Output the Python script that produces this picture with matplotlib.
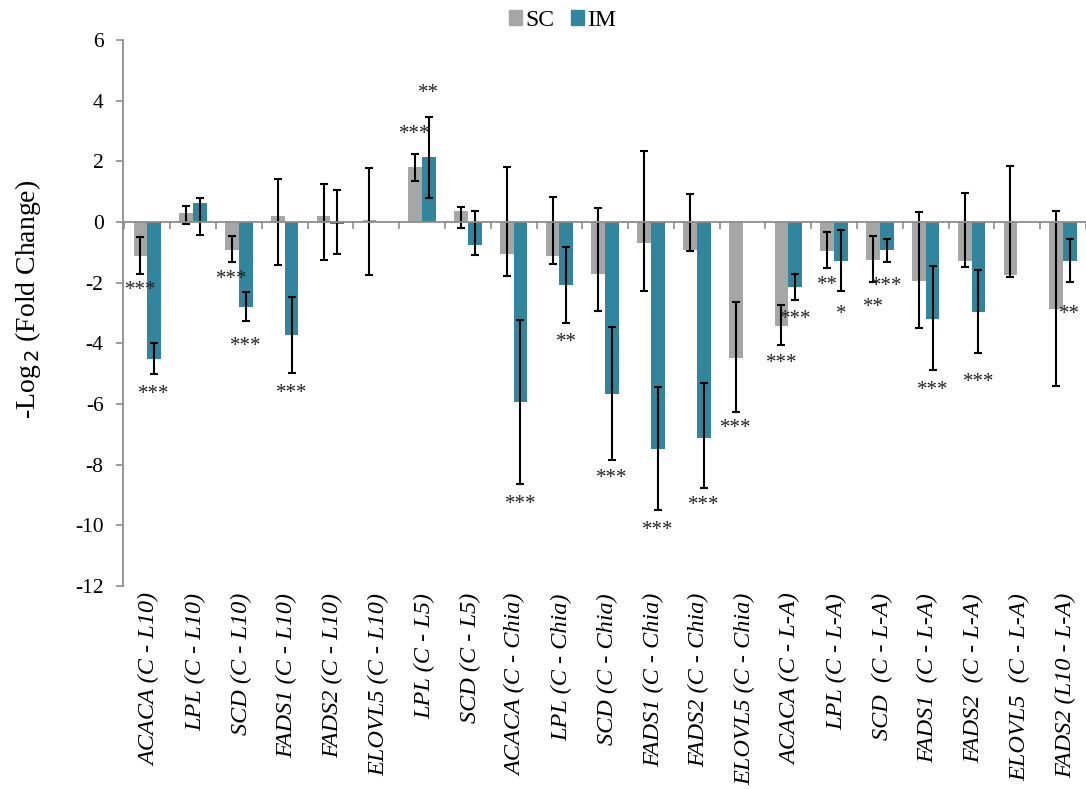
import numpy as np
import matplotlib
matplotlib.use("Agg")
import matplotlib.pyplot as plt
from matplotlib.patches import Patch
from matplotlib.transforms import blended_transform_factory

plt.rcParams['font.family'] = ['Liberation Serif', 'DejaVu Serif']
plt.rcParams['axes.unicode_minus'] = False

# -Log2 fold change per gene / diet comparison
genes = ["ACACA (C - L10)", "LPL (C - L10)", "SCD (C - L10)", "FADS1 (C - L10)",
         "FADS2 (C - L10)", "ELOVL5 (C - L10)", "LPL (C - L5)", "SCD (C - L5)",
         "ACACA (C - Chia)", "LPL (C - Chia)", "SCD (C - Chia)", "FADS1 (C - Chia)",
         "FADS2 (C - Chia)", "ELOVL5 (C - Chia)", "ACACA (C - L-A)", "LPL (C - L-A)",
         "SCD  (C - L-A)", "FADS1  (C - L-A)", "FADS2  (C - L-A)", "ELOVL5  (C - L-A)",
         "FADS2 (L10 - L-A)"]

sc = [-1.13, 0.30, -0.91, 0.21, 0.19, 0.05, 1.81, 0.35, -1.06, -1.12, -1.70,
      -0.68, -0.92, -4.48, -3.43, -0.97, -1.26, -1.93, -1.27, -1.76, -2.88]
sc_lo = [-1.70, -0.07, -1.32, -1.41, -1.26, -1.76, 1.36, -0.20, -1.79, -1.37, -2.95,
         -2.29, -0.94, -6.26, -4.07, -1.51, -1.97, -3.51, -1.48, -1.82, -5.41]
sc_hi = [-0.49, 0.54, -0.45, 1.42, 1.25, 1.78, 2.25, 0.48, 1.81, 0.83, 0.46,
         2.34, 0.93, -2.65, -2.75, -0.34, -0.47, 0.33, 0.97, 1.85, 0.35]

im = [-4.53, 0.62, -2.81, -3.73, -0.07, np.nan, 2.13, -0.75, -5.94, -2.08, -5.68,
      -7.48, -7.11, np.nan, -2.15, -1.30, -0.93, -3.19, -2.97, np.nan, -1.30]
im_lo = [-5.02, -0.44, -3.27, -4.97, -1.04, np.nan, 0.79, -1.10, -8.63, -3.33, -7.84,
         -9.50, -8.78, np.nan, -2.58, -2.26, -1.31, -4.89, -4.33, np.nan, -1.99]
im_hi = [-3.98, 0.79, -2.30, -2.47, 1.05, np.nan, 3.45, 0.35, -3.24, -0.84, -3.47,
         -5.45, -5.32, np.nan, -1.73, -0.25, -0.55, -1.46, -1.57, np.nan, -0.55]

# significance marks: (category index, series, y position, text)
stars = [(0, "SC", -2.26, "***"), (0, "IM", -5.68, "***"),
         (2, "SC", -1.91, "***"), (2, "IM", -4.12, "***"),
         (3, "IM", -5.65, "***"),
         (6, "SC", 2.89, "***"), (6, "IM", 4.22, "**"),
         (8, "IM", -9.30, "***"), (9, "IM", -3.97, "**"),
         (10, "IM", -8.47, "***"), (11, "IM", -10.18, "***"),
         (12, "IM", -9.36, "***"), (13, "SC", -6.81, "***"),
         (14, "SC", -4.67, "***"), (14, "IM", -3.21, "***"),
         (15, "SC", -2.10, "**"), (15, "IM", -3.05, "*"),
         (16, "SC", -2.83, "**"), (16, "IM", -2.14, "***"),
         (17, "IM", -5.57, "***"), (18, "IM", -5.30, "***"),
         (20, "IM", -3.05, "**")]

c_sc = "#A6A6A6"
c_im = "#31859C"
axis_c = "#8C8C8C"

x = np.arange(len(genes))
w = 0.30
sc = np.array(sc); im = np.array(im)
sc_err = [sc - np.array(sc_lo), np.array(sc_hi) - sc]
im_err = [im - np.array(im_lo), np.array(im_hi) - im]

fig = plt.figure(figsize=(10.86, 7.89), dpi=100)
ax = fig.add_axes([0.1133, 0.2573, 0.8867, 0.692])

ax.bar(x - w / 2, sc, w, color=c_sc, zorder=2)
ax.bar(x + w / 2, im, w, color=c_im, zorder=2)
ekw = dict(fmt="none", ecolor="black", elinewidth=1.5, capsize=3, capthick=1.5, zorder=3)
ax.errorbar(x - w / 2, sc, yerr=sc_err, **ekw)
ax.errorbar(x + w / 2, im, yerr=im_err, **ekw)

for i, s, yv, t in stars:
    xp = x[i] - w / 2 if s == "SC" else x[i] + w / 2
    ax.text(xp, yv, t, ha="center", va="center", fontsize=15, color="#222222")

ax.set_xlim(-0.53, 20.30)
ax.set_ylim(-12, 6)
ax.set_yticks(np.arange(-12, 7, 2))
ax.tick_params(axis="y", labelsize=15.5, color=axis_c, length=5, width=1.2, pad=9)

# category axis sits at zero, labels hang below the plot
ax.spines["top"].set_visible(False)
ax.spines["right"].set_visible(False)
ax.spines["left"].set_color(axis_c)
ax.spines["left"].set_linewidth(1.3)
ax.spines["bottom"].set_position(("data", 0))
ax.spines["bottom"].set_color(axis_c)
ax.spines["bottom"].set_linewidth(1.3)
ax.spines["bottom"].set_zorder(4)
ax.set_xticks(np.arange(-0.5, 21, 1.0))
ax.set_xticklabels([])
ax.tick_params(axis="x", color=axis_c, length=5, width=1.2, direction="out")

trans = blended_transform_factory(ax.transData, ax.transAxes)
for i, g in enumerate(genes):
    ax.text(x[i] + 0.05, -0.013, g, transform=trans, rotation=90, ha="center", va="top",
            style="italic", fontsize=17.5)

ax.set_ylabel("-Log$_{\\,2}$ (Fold Change)", fontsize=20)
ax.yaxis.set_label_coords(-0.083, 0.525)

handles = [Patch(color=c_sc, label="SC"), Patch(color=c_im, label="IM")]
fig.legend(handles=handles, loc="center", bbox_to_anchor=(0.518, 0.974), ncol=2,
           frameon=False, fontsize=17, handlelength=0.55, handleheight=0.6,
           handletextpad=0.15, columnspacing=0.7)

fig.savefig("out.png", dpi=100)
